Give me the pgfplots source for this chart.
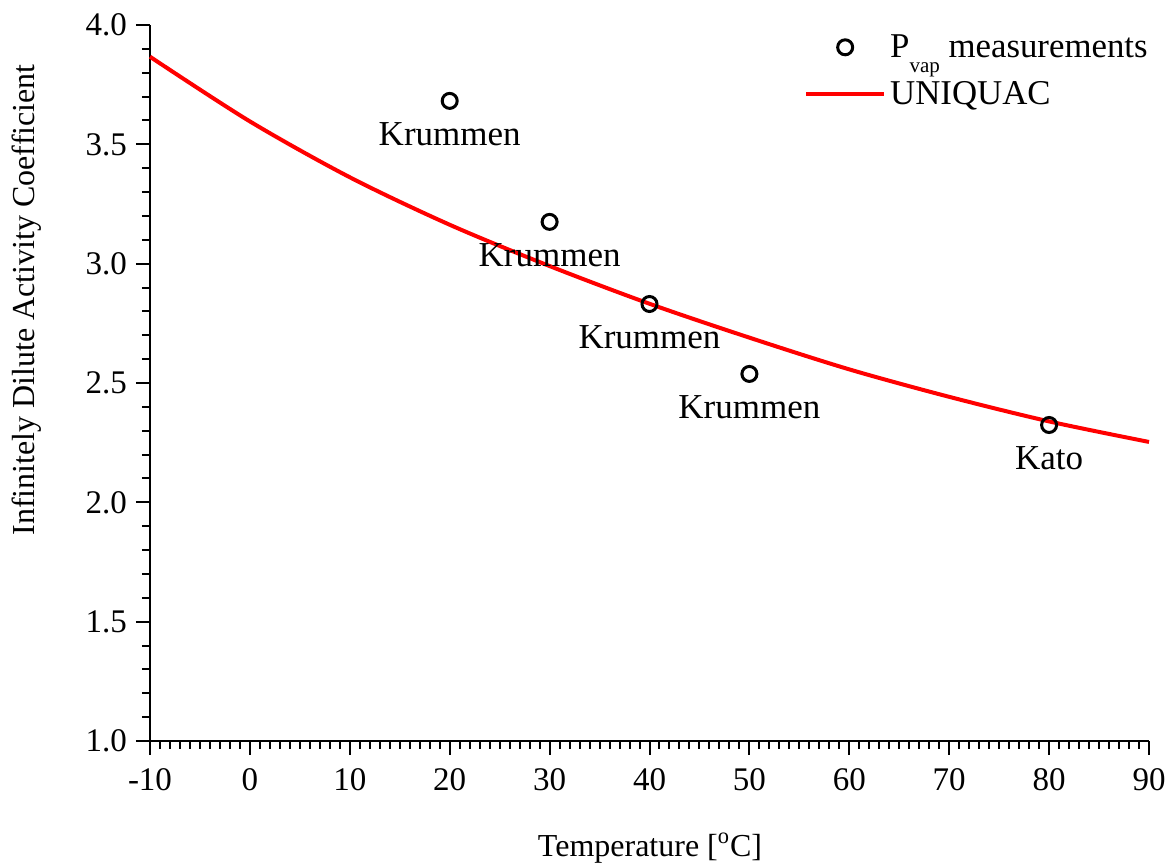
\documentclass[border=0pt]{standalone}
\usepackage{pgfplots}
\pgfplotsset{compat=1.18}
\usepackage{fontspec}
\setmainfont{Liberation Serif}

\pgfplotsset{
  markleg/.style={legend image code/.code={\draw[##1] plot coordinates {(19.5pt,0pt)};}},
  lineleg/.style={legend image code/.code={\draw[##1] (0pt,0pt) -- (39pt,0pt);}},
}

\pgfplotstableread{
x y
-10 3.867
0 3.596
10 3.362
20 3.163
30 2.990
40 2.832
50 2.690
60 2.557
70 2.442
80 2.339
90 2.253
}\uniquac

\pgfplotstableread{
x y label
20 3.682 Krummen
30 3.175 Krummen
40 2.831 Krummen
50 2.538 Krummen
80 2.324 Kato
}\meas

\begin{document}
\begin{tikzpicture}
\begin{axis}[
  at={(0,0)}, anchor=south west,
  scale only axis, width=499.5pt, height=358pt,
  xmin=-10, xmax=90, ymin=1, ymax=4,
  xtick={-10,0,...,90}, ytick={1,1.5,...,4},
  minor x tick num=9, minor y tick num=4,
  axis x line*=bottom, axis y line*=left,
  axis line style={-, line width=1.1pt, black},
  tick align=outside,
  major tick length=7pt, minor tick length=4pt,
  every tick/.style={black, line width=1pt},
  tick label style={font=\fontsize{16.5}{16.5}\selectfont},
  xticklabel style={yshift=-3pt},
  yticklabel style={xshift=-1pt, /pgf/number format/fixed, /pgf/number format/fixed zerofill, /pgf/number format/precision=1},
  /pgf/number format/assume math mode=true,
  xlabel={Temperature [\textsuperscript{o}C]},
  ylabel={Infinitely Dilute Activity Coefficient},
  label style={font=\fontsize{16}{16}\selectfont},
  xlabel style={at={(axis description cs:0.5005,-0.1494)}, anchor=center},
  ylabel style={at={(axis description cs:-0.1231,0.616)}, anchor=center},
  legend style={at={(axis description cs:1.003,0.993)}, anchor=north east, draw=none, fill=none,
    font=\fontsize{17.4}{17.4}\selectfont, inner sep=0pt, row sep=6.5pt},
  legend cell align=left,
  clip=false,
]
\addplot[only marks, mark=o, mark size=3.75pt, line width=1.5pt, black,
  nodes near coords, point meta=explicit symbolic,
  nodes near coords style={anchor=north, inner sep=0pt, yshift=-10pt, font=\fontsize{17.5}{17.5}\selectfont},
  markleg]
  table[x=x, y=y, meta=label] {\meas};
\addlegendentry{P\raisebox{-7.5pt}[0pt][0pt]{\fontsize{10.5}{10.5}\selectfont vap} measurements}
\addplot[red, line width=2pt, smooth, lineleg]
  table[x=x, y=y] {\uniquac};
\addlegendentry{UNIQUAC}
\end{axis}
\pgfresetboundingbox
\useasboundingbox (-75pt,-62pt) rectangle (510pt,370.5pt);
\end{tikzpicture}
\end{document}
